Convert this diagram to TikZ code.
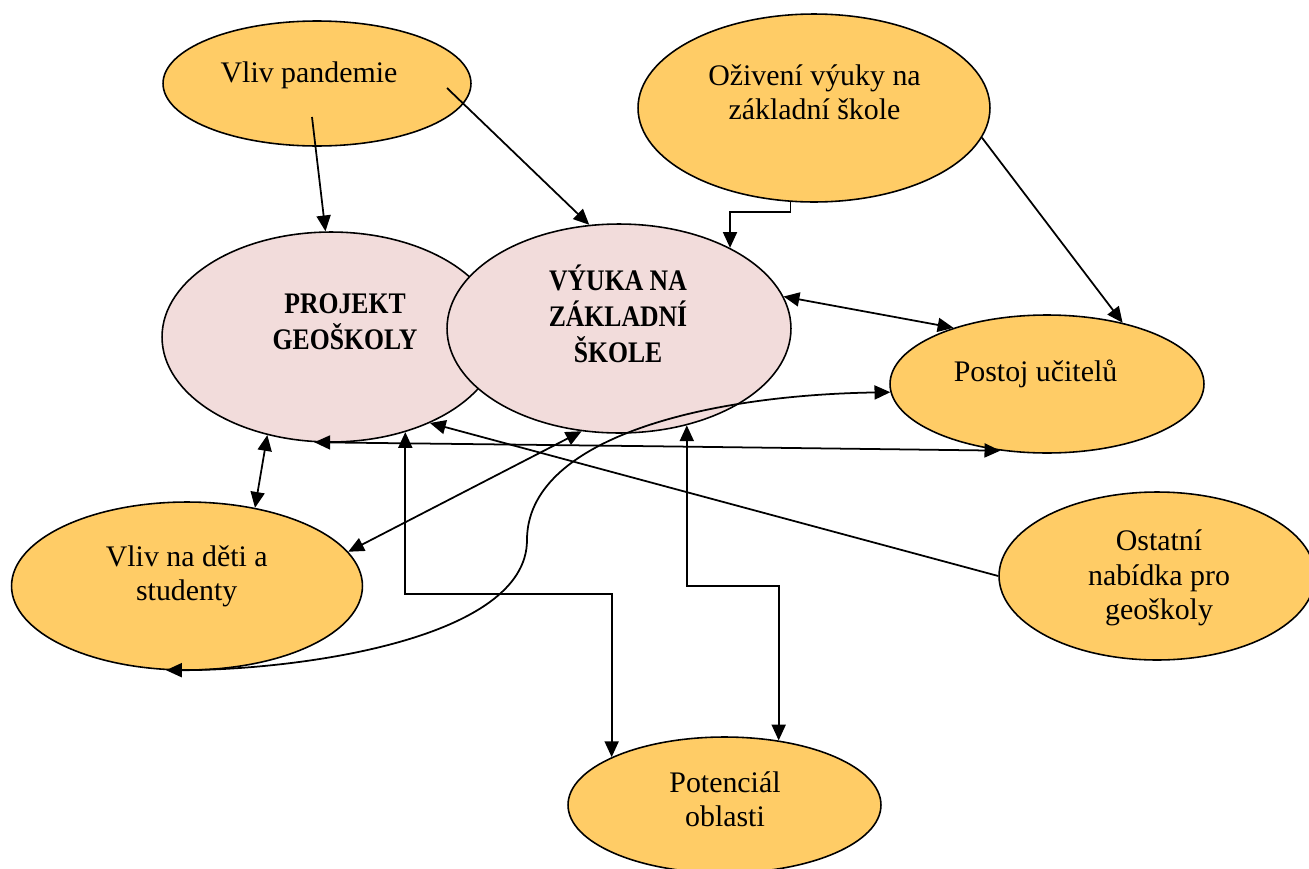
\documentclass[tikz,border=0pt]{standalone}
\usepackage{fontspec}
\setmainfont{Liberation Serif}
\usepackage{graphicx}
\usetikzlibrary{shapes.geometric,arrows.meta,calc}
\definecolor{gold}{HTML}{FFCC66}
\definecolor{rose}{HTML}{F2DCDB}
\newcommand{\narrowbf}[1]{\scalebox{0.86}[1]{\bfseries\begin{tabular}{@{}c@{}}#1\end{tabular}}}

\begin{document}
\begin{tikzpicture}[x=0.02cm, y=-0.02cm,
    font=\fontsize{17}{19.5}\selectfont,
    >={Triangle[length=9pt,width=8pt]},
    factor/.style={ellipse, draw, line width=0.9pt, fill=gold, inner sep=0pt},
    core/.style={ellipse, draw, line width=0.9pt, fill=rose, inner sep=0pt},
    lbl/.style={align=center, inner sep=0pt},
    link/.style={line width=1pt}]
    \useasboundingbox (0,0) rectangle (1309,869);

    % ellipses
    \node[factor, minimum width=6.16cm, minimum height=2.5cm] (pand) at (317,83.5) {};
    \node[factor, minimum width=7.04cm, minimum height=3.76cm] (oziv) at (814,108) {};
    \node[core, minimum width=6.76cm, minimum height=4.2cm] (proj) at (331,337) {};
    \node[core, minimum width=6.88cm, minimum height=4.18cm] (vyuka) at (619,328.5) {};
    \node[factor, minimum width=6.28cm, minimum height=2.76cm] (postoj) at (1047,384) {};
    \node[factor, minimum width=7.02cm, minimum height=3.36cm] (deti) at (187,586) {};
    \node[factor, minimum width=6.32cm, minimum height=3.36cm] (ostat) at (1157,576) {};
    \node[factor, minimum width=6.26cm, minimum height=2.72cm] (poten) at (724.5,805) {};

    % texts
    \node[lbl] (pand-t) at (309,75) {Vliv pandemie};
    \node[lbl] (oziv-t) at (814.5,92) {Oživení výuky na\\základní škole};
    \node[lbl] (proj-t) at (345,325) {\narrowbf{PROJEKT\\GEOŠKOLY}};
    \node[lbl] (vyuka-t) at (618,319) {\narrowbf{VÝUKA NA\\ZÁKLADNÍ\\ŠKOLE}};
    \node[lbl] (postoj-t) at (1035.5,374) {Postoj učitelů};
    \node[lbl] (deti-t) at (186.7,576.5) {Vliv na děti a\\studenty};
    \node[lbl] (ostat-t) at (1159,578) {Ostatní\\nabídka pro\\geoškoly};
    \node[lbl] (poten-t) at (725,799) {Potenciál\\oblasti};

    % connectors
    \draw[link,->] ($(pand)+(-5,33.5)$) -- (proj.93);
    \draw[link,->] ($(pand)+(130,4.5)$) -- (vyuka.106);
    \draw[link,->] (oziv.-104) -- ++(0,10) -| (vyuka.36);
    \draw[link,->] (oziv.-10) -- (postoj.39);
    \draw[link,<->] (vyuka.11) -- (postoj.149);
    \draw[link,<->] (proj.-123) -- (deti.49);
    \draw[link,<->] (vyuka.-110) -- (deti.12);
    \draw[link,<->] (proj.-99) -- ++(340,4) -- (postoj.-125);
    \draw[link,->] (ostat.west) -- (proj.-41);
    \draw[link,<->] (proj.-52) -- ++(0,162) -| (poten.157);
    \draw[link,<->] (vyuka.-55) -- ++(0,161) -| (poten.50);
    \coordinate (sbend) at (527,540);
    \draw[link,<->] (postoj.183) .. controls +(-190,3) and +(0,-100) .. (sbend)
        .. controls +(0,100) and +(130,0) .. (deti.256);
\end{tikzpicture}
\end{document}
